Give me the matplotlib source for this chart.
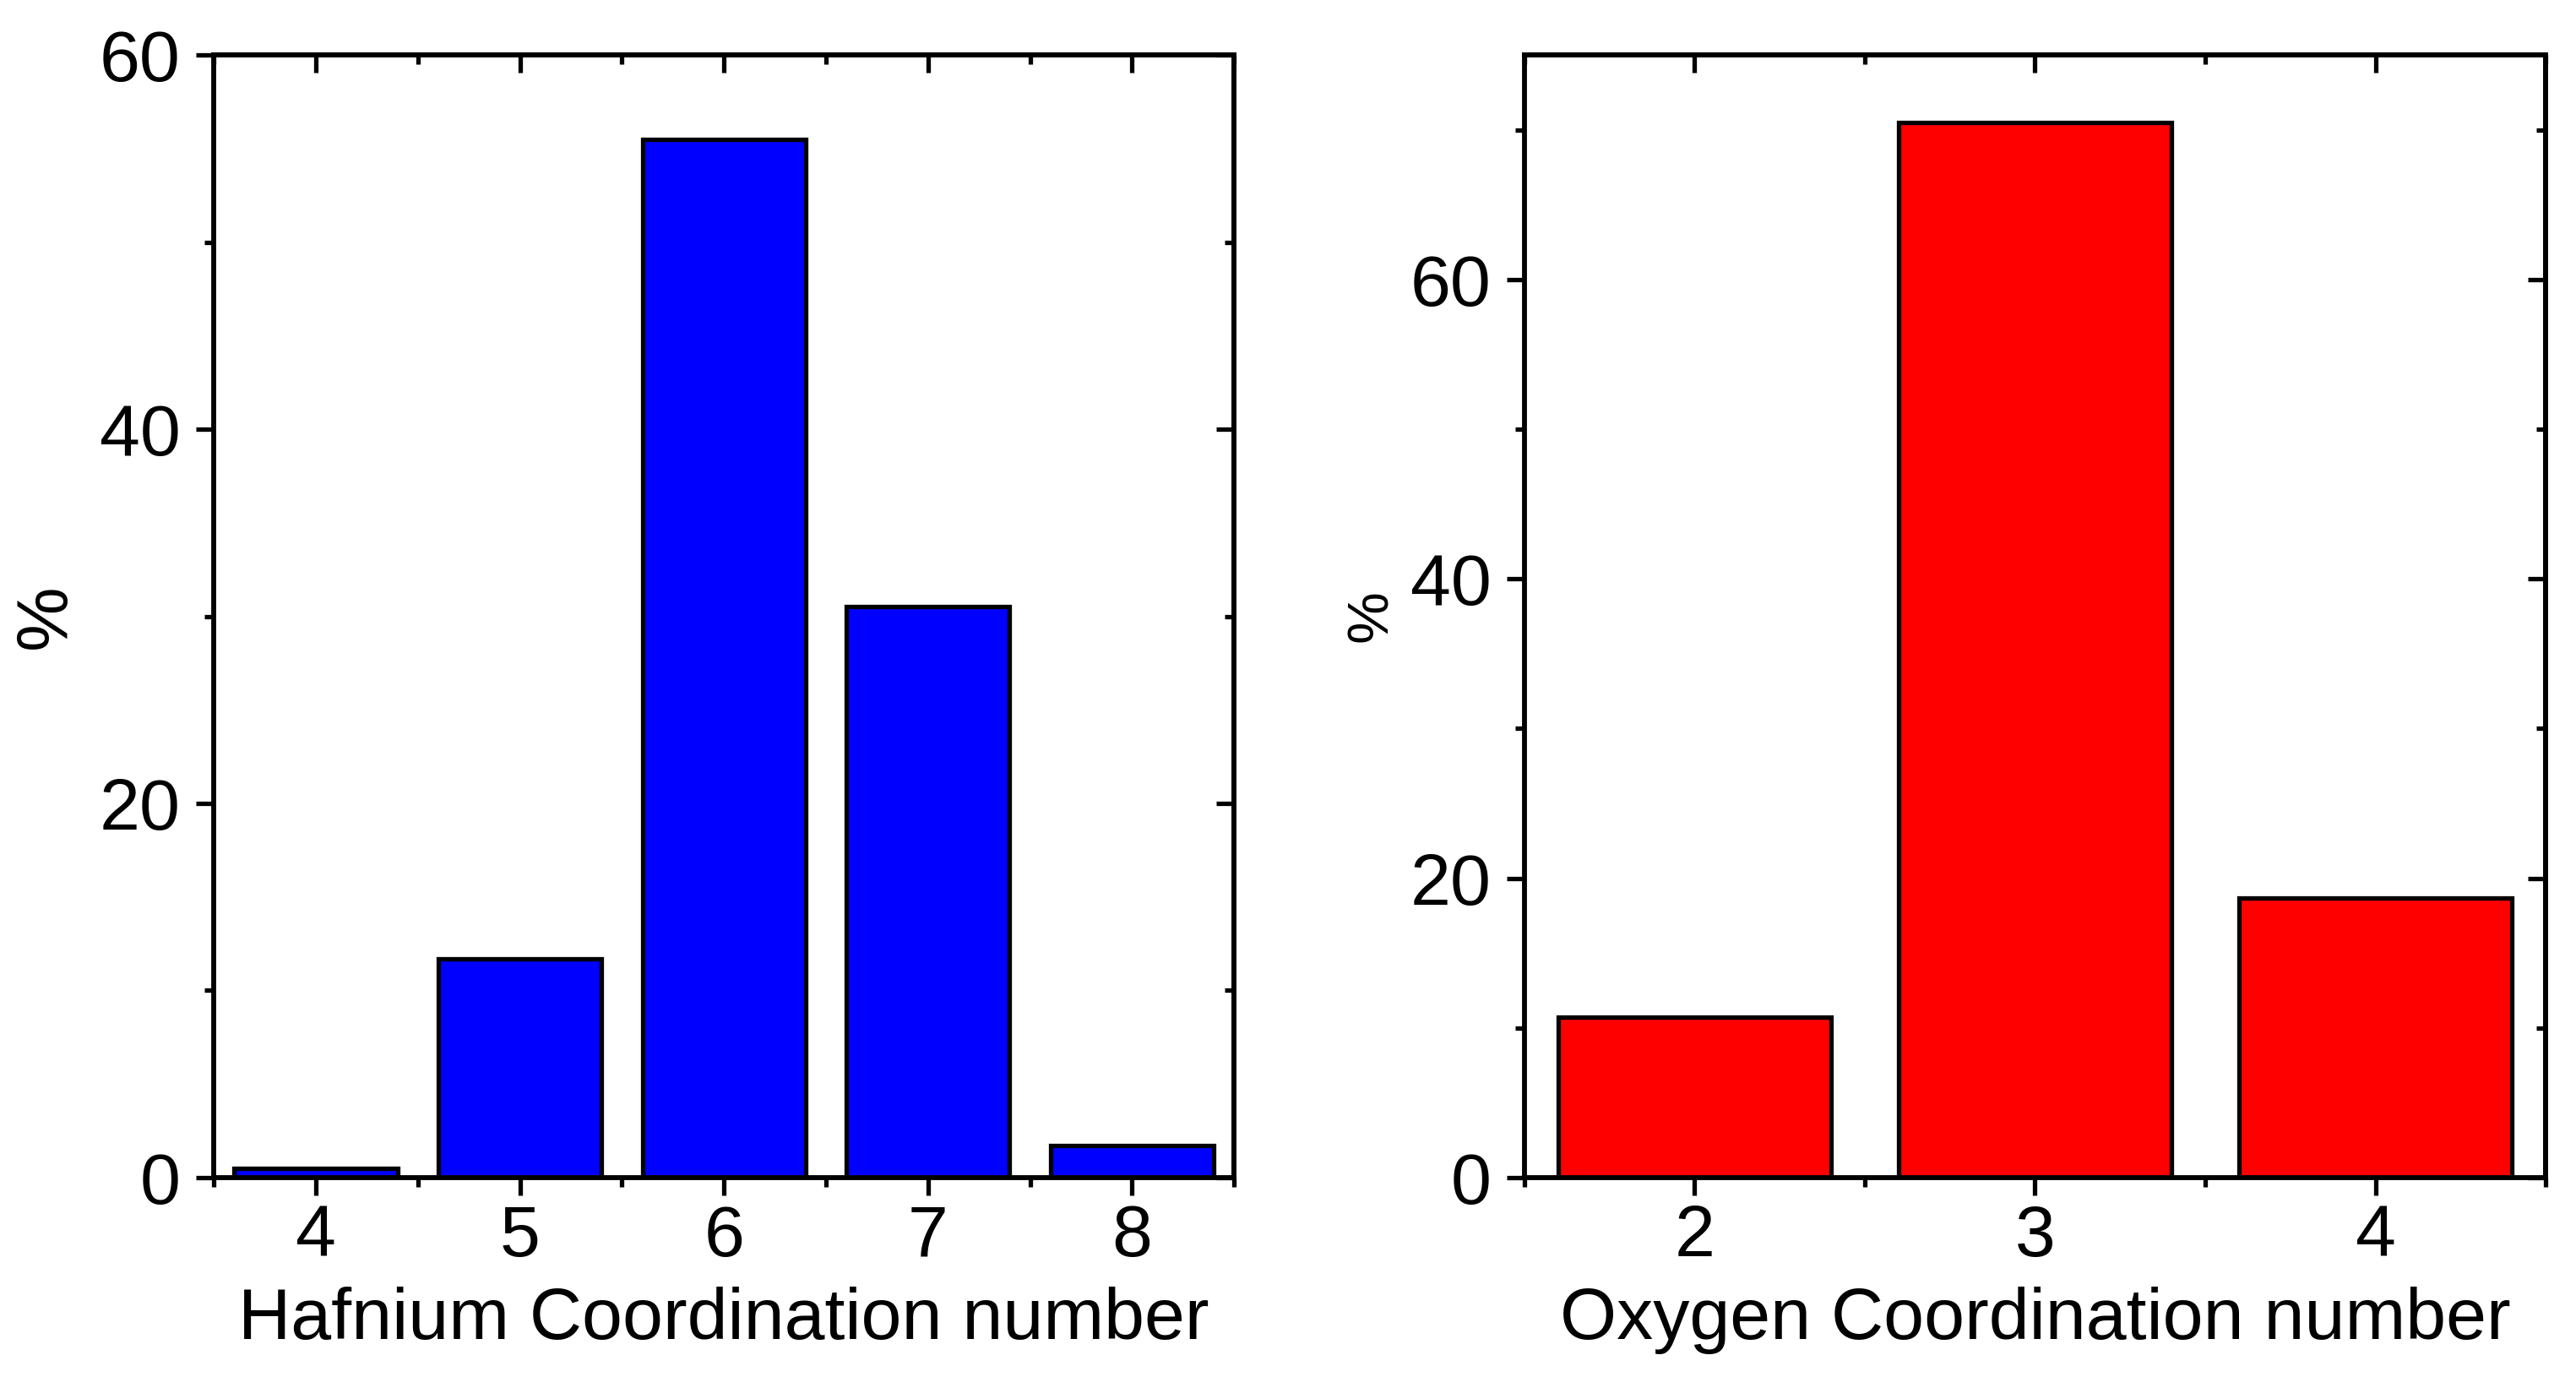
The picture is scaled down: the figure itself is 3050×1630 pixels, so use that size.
import matplotlib
matplotlib.use("Agg")
import matplotlib.pyplot as plt
from matplotlib.ticker import FixedLocator, NullFormatter

plt.rcParams["font.family"] = ["Liberation Sans", "DejaVu Sans"]

# coordination number distributions (% of atoms)
hf_cn = [4, 5, 6, 7, 8]
hf_pct = [0.5, 11.7, 55.5, 30.5, 1.7]

o_cn = [2, 3, 4]
o_pct = [10.7, 70.5, 18.7]

HF_COLOR = "#0000ff"
O_COLOR = "#ff0000"
SPINE_LW = 2.1
TICK_LW = 1.9
BAR_LW = 1.9
FS = 31        # tick / axis label size
MAJ, MIN = 7.6, 4.0


def style(ax, cats, ylim, ymajor, yminor):
    ax.set_xlim(cats[0] - 0.5, cats[-1] + 0.5)
    ax.set_ylim(*ylim)
    bounds = [c - 0.5 for c in cats] + [cats[-1] + 0.5]

    ax.xaxis.set_major_locator(FixedLocator(cats))
    ax.xaxis.set_minor_locator(FixedLocator(bounds))
    ax.yaxis.set_major_locator(FixedLocator(ymajor))
    ax.yaxis.set_minor_locator(FixedLocator(yminor))
    ax.tick_params(which="both", direction="out", width=TICK_LW, labelsize=FS)
    ax.tick_params(which="major", length=MAJ)
    ax.tick_params(which="minor", length=MIN)
    ax.tick_params(axis="y", pad=6.5)
    ax.tick_params(axis="x", pad=3.5)
    for sp in ax.spines.values():
        sp.set_linewidth(SPINE_LW)

    # top and right: ticks pointing inwards, no labels
    top = ax.secondary_xaxis("top")
    top.xaxis.set_major_locator(FixedLocator(cats))
    top.xaxis.set_minor_locator(FixedLocator(bounds))
    top.xaxis.set_major_formatter(NullFormatter())
    right = ax.secondary_yaxis("right")
    right.yaxis.set_major_locator(FixedLocator(ymajor))
    right.yaxis.set_minor_locator(FixedLocator(yminor))
    right.yaxis.set_major_formatter(NullFormatter())
    for sec in (top, right):
        sec.tick_params(which="both", direction="in", width=TICK_LW)
        sec.tick_params(which="major", length=MAJ)
        sec.tick_params(which="minor", length=MIN)
        for sp in sec.spines.values():
            sp.set_linewidth(SPINE_LW)


fig = plt.figure(figsize=(15.25, 8.15), dpi=200)
ax1 = fig.add_axes([0.0830, 0.1448, 0.3961, 0.8153])
ax2 = fig.add_axes([0.5918, 0.1448, 0.3964, 0.8153])

ax1.bar(hf_cn, hf_pct, width=0.8, color=HF_COLOR, edgecolor="black", linewidth=BAR_LW)
style(ax1, hf_cn, (0, 60), [0, 20, 40, 60], [10, 30, 50])
ax1.set_xlabel("Hafnium Coordination number", fontsize=FS, labelpad=6.5)
ax1.set_ylabel("%", fontsize=FS, labelpad=8)

ax2.bar(o_cn, o_pct, width=0.8, color=O_COLOR, edgecolor="black", linewidth=BAR_LW)
style(ax2, o_cn, (0, 75), [0, 20, 40, 60], [10, 30, 50, 70])
ax2.set_xlabel("Oxygen Coordination number", fontsize=FS, labelpad=6.5)
ax2.set_ylabel("%", fontsize=25, labelpad=5)

fig.savefig("out.png", dpi=200, facecolor="white")
